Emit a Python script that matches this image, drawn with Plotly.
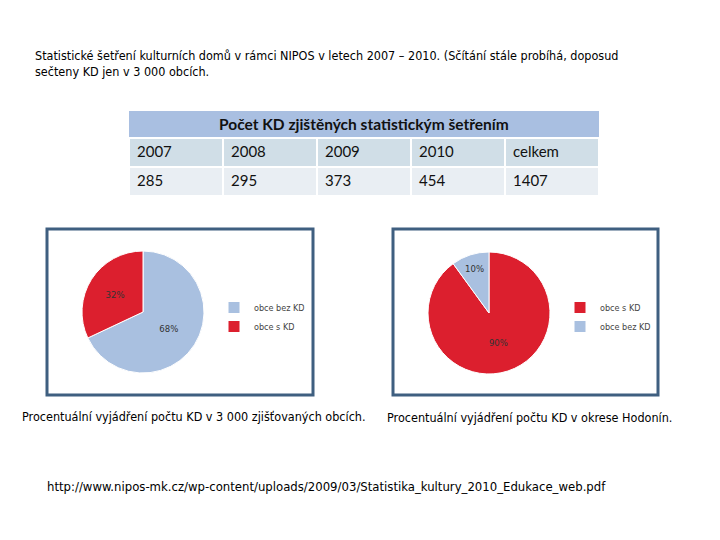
import plotly.graph_objects as go

OFF = 8  # page body margin in the browser
W, H = 720 - OFF, 540 - OFF

# ---- data ----
years = ["2007", "2008", "2009", "2010", "celkem"]
counts = ["285", "295", "373", "454", "1407"]
table_title = "Počet KD zjištěných statistickým šetřením"

pie1_labels = ["obce bez KD", "obce s KD"]
pie1_values = [68, 32]
pie2_labels = ["obce s KD ", "obce bez KD "]
pie2_values = [90, 10]

intro = ("Statistické šetření kulturních domů v rámci NIPOS v letech 2007 – 2010. (Sčítání stále probíhá, doposud"
         "<br>sečteny KD jen v 3 000 obcích.")
caption1 = "Procentuální vyjádření počtu KD v 3 000 zjišťovaných obcích."
caption2 = "Procentuální vyjádření počtu KD v okrese Hodonín."
source_url = "http://www.nipos-mk.cz/wp-content/uploads/2009/03/Statistika_kultury_2010_Edukace_web.pdf"

RED = "#dc1f2e"
BLUE = "#a9c0e0"


def col(label):
    return BLUE if "bez" in label else RED


FONT = "Liberation Sans Narrow, DejaVu Sans Condensed, sans-serif"
TFONT = "Lato, Open Sans, sans-serif"


def px(x):
    return (x - OFF) / W


def py(y):
    return 1 - (y - OFF) / H


fig = go.Figure()

# table body
fig.add_trace(go.Table(
    domain=dict(x=[px(129), px(599)], y=[py(197), py(138)]),
    columnwidth=[1] * len(years),
    header=dict(values=years, fill_color="#d0dee7", line=dict(color="white", width=2),
                align="left", height=29, font=dict(family=TFONT, size=15, color="#111")),
    cells=dict(values=[[c] for c in counts], fill_color="#e9eef3", line=dict(color="white", width=2),
               align="left", height=29, font=dict(family=TFONT, size=15, color="#111")),
))

# pies
fig.add_trace(go.Pie(
    labels=pie1_labels, values=pie1_values, sort=False, direction="clockwise", rotation=0,
    marker=dict(colors=[col(l) for l in pie1_labels], line=dict(color="white", width=1)),
    textinfo="percent", textposition="inside", insidetextorientation="horizontal",
    textfont=dict(family=FONT, size=9.5, color="#333"),
    domain=dict(x=[px(82), px(204)], y=[py(373), py(251)]),
    legend="legend", showlegend=True,
))
fig.add_trace(go.Pie(
    labels=pie2_labels, values=pie2_values, sort=False, direction="clockwise", rotation=0,
    marker=dict(colors=[col(l) for l in pie2_labels], line=dict(color="white", width=1)),
    textinfo="percent", textposition="inside", insidetextorientation="horizontal",
    textfont=dict(family=FONT, size=9.5, color="#333"),
    domain=dict(x=[px(428), px(550)], y=[py(374), py(252)]),
    legend="legend2", showlegend=True,
))

shapes = [
    dict(type="rect", xref="paper", yref="paper", x0=px(129), x1=px(599), y0=py(137), y1=py(111),
         fillcolor="#a9bfe1", line=dict(width=0), layer="below"),
    dict(type="rect", xref="paper", yref="paper", x0=px(47), x1=px(313), y0=py(395), y1=py(229),
         fillcolor="white", line=dict(color="#3f5f80", width=3), layer="below"),
    dict(type="rect", xref="paper", yref="paper", x0=px(393), x1=px(658), y0=py(395), y1=py(229),
         fillcolor="white", line=dict(color="#3f5f80", width=3), layer="below"),
]

annotations = [
    dict(text="<b>" + table_title + "</b>", x=px(364), y=py(124), xref="paper", yref="paper", showarrow=False,
         font=dict(family=TFONT, size=15.5, color="#111"), xanchor="center", yanchor="middle"),
    dict(text=intro, x=px(33), y=py(46), xref="paper", yref="paper", showarrow=False, align="left",
         xanchor="left", yanchor="top", font=dict(family=FONT, size=12.5, color="#000")),
    dict(text=caption1, x=px(20), y=py(416), xref="paper", yref="paper", showarrow=False,
         xanchor="left", yanchor="middle", font=dict(family=FONT, size=12.5, color="#000")),
    dict(text=caption2, x=px(385), y=py(417), xref="paper", yref="paper", showarrow=False,
         xanchor="left", yanchor="middle", font=dict(family=FONT, size=12.5, color="#000")),
    dict(text=source_url, x=px(45), y=py(486), xref="paper", yref="paper", showarrow=False,
         xanchor="left", yanchor="middle", font=dict(family=FONT, size=13, color="#000")),
]

fig.update_layout(
    width=W, height=H, margin=dict(l=0, r=0, t=0, b=0),
    paper_bgcolor="white", plot_bgcolor="white",
    shapes=shapes, annotations=annotations,
    legend=dict(x=px(214), y=py(293), xanchor="left", yanchor="top", bgcolor="rgba(0,0,0,0)",
                font=dict(family=FONT, size=9, color="#444"), traceorder="normal"),
    legend2=dict(x=px(560), y=py(293), xanchor="left", yanchor="top", bgcolor="rgba(0,0,0,0)",
                 font=dict(family=FONT, size=9, color="#444"), traceorder="normal"),
)

fig.write_html("out.html")
